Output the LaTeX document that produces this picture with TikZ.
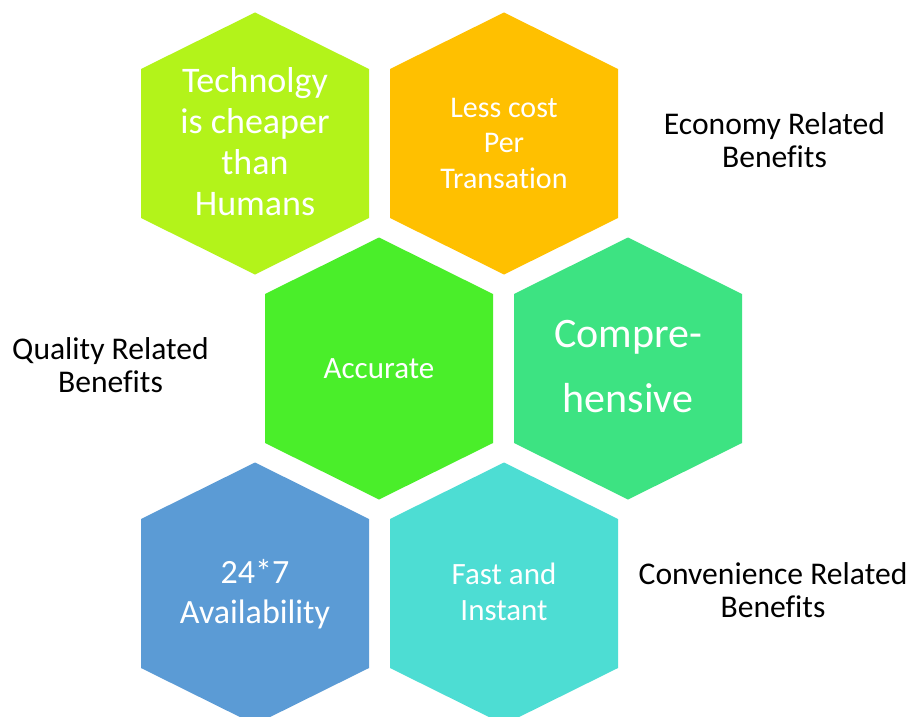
\documentclass[tikz,border=0pt]{standalone}
\usepackage{fontspec}
\setmainfont{Carlito}[Ligatures=NoCommon]
\definecolor{hexlime}{HTML}{B3F31A}
\definecolor{hexgold}{HTML}{FFC000}
\definecolor{hexgreen}{HTML}{4AEE2A}
\definecolor{hexmint}{HTML}{3DE382}
\definecolor{hexblue}{HTML}{5B9BD5}
\definecolor{hexaqua}{HTML}{4DDDD3}
% flattened pointy-top hexagon around a centre point
\newcommand\honeycell[3]{%
  \fill[#3] (#1,#2) ++(0,-131) -- ++(114,56.5) -- ++(0,149) -- ++(-114,56.5)
    -- ++(-114,-56.5) -- ++(0,-149) -- cycle;
  \coordinate (#3c) at (#1,#2);}
\begin{document}
\begin{tikzpicture}[x=1pt,y=-1pt,
  % multi-line nodes: the base anchor sits on the last line's baseline
  celltext/.style={text=white,align=center,anchor=base,inner sep=0pt},
  grouplabel/.style={text=black,align=center,anchor=base,inner sep=0pt,
    font=\fontsize{31.6}{33}\selectfont}]
\useasboundingbox (0,0) rectangle (911,717);
\clip (0,0) rectangle (911,717);
\fill[white] (0,0) rectangle (911,717);
% hexagon cells
\honeycell{255}{143.5}{hexlime}
\honeycell{504}{143.5}{hexgold}
\honeycell{379}{368.5}{hexgreen}
\honeycell{628}{368.5}{hexmint}
\honeycell{255}{593.5}{hexblue}
\honeycell{504}{593.5}{hexaqua}
% cell texts
\node[celltext,font=\fontsize{36}{41}\selectfont] (tech) at (255,215)
  {Technolgy\\is cheaper\\than\\Humans};
\node[celltext,font=\fontsize{30}{35.5}\selectfont] (cost) at (504,188)
  {Less cost\\Per\\Transation};
\node[celltext,font=\fontsize{31}{36}\selectfont] (acc) at (379,378) {Accurate};
\node[celltext,font=\fontsize{42}{65}\selectfont] (comp) at (628,412)
  {Compre-\\hensive};
\node[celltext,font=\fontsize{34}{40}\selectfont] (avail) at (255,623)
  {24*7\\Availability};
\node[celltext,font=\fontsize{31}{36}\selectfont] (fast) at (504,620)
  {Fast and\\Instant};
% group labels
\node[grouplabel] (econ) at (774.5,167) {Economy Related\\Benefits};
\node[grouplabel] (qual) at (110.5,392) {Quality Related\\Benefits};
\node[grouplabel] (conv) at (773,617) {Convenience Related\\Benefits};
\end{tikzpicture}
\end{document}
